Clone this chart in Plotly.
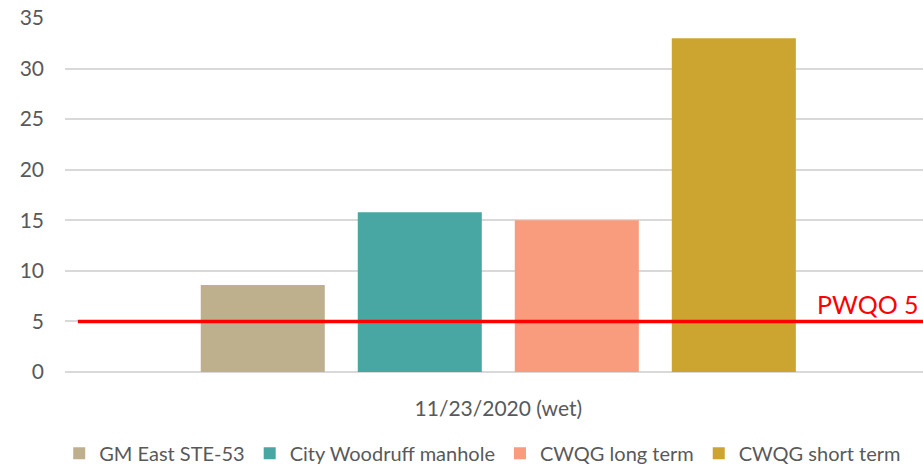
import plotly.graph_objects as go

# Sample event and the measured values per source
category = ["11/23/2020 (wet)"]
series_names = ["GM East STE-53", "City Woodruff manhole", "CWQG long term", "CWQG short term"]
series_values = [8.6, 15.8, 15.0, 33.0]
series_colors = ["#BFB08D", "#48A7A3", "#F99B7D", "#CBA52F"]

# Provincial objective reference line
pwqo_value = 5
pwqo_label = "PWQO 5"

y_ticks = [0, 5, 10, 15, 20, 25, 30, 35]

fig = go.Figure()
for name, val, col in zip(series_names, series_values, series_colors):
    fig.add_trace(go.Bar(x=category, y=[val], name=name, marker=dict(color=col, line=dict(width=0))))

fig.add_shape(type="line", xref="paper", yref="y", x0=0.015, x1=1, y0=pwqo_value, y1=pwqo_value,
              line=dict(color="#FF0000", width=3.5), layer="above")
fig.add_annotation(xref="paper", yref="y", x=1, y=pwqo_value, text=pwqo_label, showarrow=False,
                   xanchor="right", yanchor="bottom", yshift=0, xshift=-2,
                   font=dict(color="#FF0000", size=25, family="Lato"))

fig.update_layout(
    width=923, height=469,
    margin=dict(l=65, r=0, t=18, b=97, autoexpand=False),
    paper_bgcolor="white", plot_bgcolor="white",
    barmode="group", bargap=0.268, bargroupgap=0.21,
    font=dict(family="Lato", color="#595959", size=21),
    showlegend=True,
    legend=dict(orientation="h", xref="container", yref="container", x=0.523, xanchor="center",
                y=0.075, yanchor="top", font=dict(size=20, color="#595959"),
                itemwidth=30, traceorder="normal"),
    xaxis=dict(showgrid=False, showline=False, ticks="", ticklabelstandoff=22,
               range=[-0.505, 0.495], tickfont=dict(size=21, color="#595959")),
    yaxis=dict(range=[0, 35], tickvals=y_ticks, showgrid=True, gridcolor="#D9D9D9", gridwidth=1.5,
               zeroline=True, zerolinecolor="#D9D9D9", zerolinewidth=1.5, showline=False,
               ticks="", ticklabelstandoff=20, tickfont=dict(size=21, color="#595959")),
)

fig.write_html("out.html")
